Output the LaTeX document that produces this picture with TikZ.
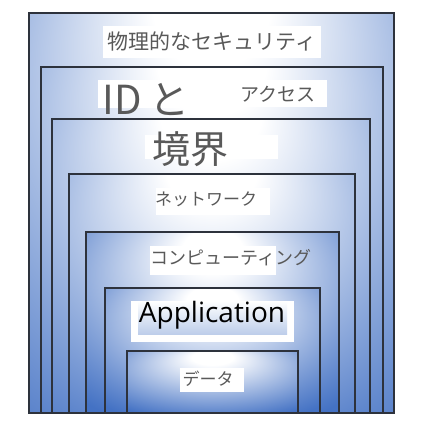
\documentclass[tikz,border=0pt]{standalone}
\usepackage{fontspec}
\setmainfont{Open Sans}
\newfontfamily\jp{Noto Sans CJK JP}
\definecolor{boxblue}{RGB}{68,114,196}
\definecolor{txtgray}{RGB}{89,89,89}
\definecolor{edgecol}{RGB}{45,50,60}
\pgfdeclareradialshading{bigshade}{\pgfpoint{0bp}{30bp}}{color(0bp)=(white); color(8bp)=(white); color(47bp)=(boxblue); color(60bp)=(boxblue)}
\pgfdeclareradialshading{smallshade}{\pgfpoint{0bp}{22bp}}{color(0bp)=(white); color(6bp)=(white); color(39bp)=(boxblue); color(60bp)=(boxblue)}
\tikzset{
  layerbox/.style={shading=bigshade, draw=edgecol, line width=1.5pt},
  smallbox/.style={shading=smallshade, draw=edgecol, line width=1.5pt},
  whitepatch/.style={fill=white},
  jplabel/.style={font=\jp, text=txtgray, inner sep=0pt, anchor=center},
}
\newcommand{\fsz}[1]{\fontsize{#1}{#1}\selectfont}
\begin{document}
\begin{tikzpicture}[x=1pt,y=-1pt]
\useasboundingbox (0,0) rectangle (421,421);
% layers
\path[layerbox] (29,13) rectangle (394,413);
\path[layerbox] (41,67) rectangle (383,413);
\path[layerbox] (52,119) rectangle (370,413);
\path[layerbox] (69,174) rectangle (355,413);
\path[smallbox] (86,232) rectangle (339,413);
\path[smallbox] (105,288) rectangle (320,413);
\path[smallbox] (127,351) rectangle (298,413);
% white patches
\fill[whitepatch] (103,26) rectangle (321,58);
\fill[whitepatch] (98,80) rectangle (180,108);
\fill[whitepatch] (242,80) rectangle (327,107);
\fill[whitepatch] (145,135) rectangle (278,159);
\fill[whitepatch] (156,188) rectangle (270,215);
\fill[whitepatch] (150,246) rectangle (276,275);
\fill[whitepatch] (131,301) rectangle (294,342);
\shade[top color=white, bottom color=boxblue!35] (138,301) rectangle (287,334);
\fill[whitepatch] (180,368) rectangle (244,392);
% labels
\node[jplabel, font=\jp\fsz{21}] (phys) at (212,41.5) {物理的なセキュリティ};
\node[jplabel, font=\jp\fsz{40}] (id) at (146,99) {ID\hspace{7pt}と};
\node[jplabel, font=\jp\fsz{19}] (acc) at (278,94) {アクセス};
\node[jplabel, font=\jp\fsz{38}] (perim) at (190,149) {境界};
\node[jplabel, font=\jp\fsz{17}] (net) at (206,199) {ネットワーク};
\node[jplabel, font=\jp\fsz{18}] (comp) at (231,258) {コンピューティング};
\node[inner sep=0pt, font=\fsz{28}, text=black] (app) at (212,315) {Application};
\node[jplabel, font=\jp\fsz{17}] (data) at (208,379) {データ};
\end{tikzpicture}
\end{document}
